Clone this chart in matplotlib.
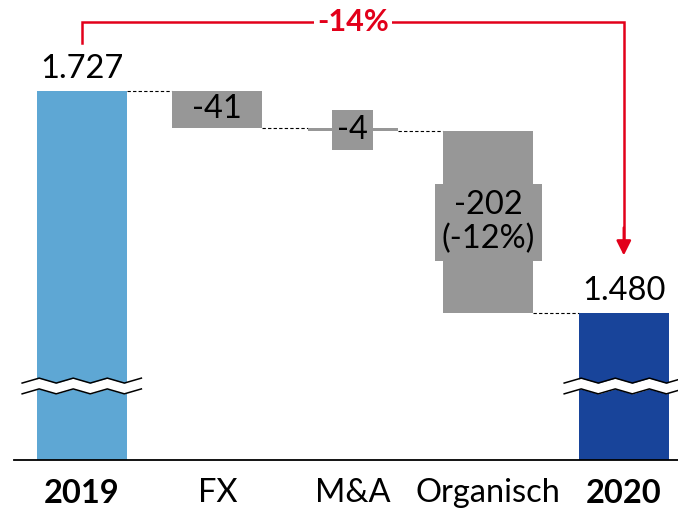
import numpy as np
import matplotlib.pyplot as plt

# data
categories = ["2019", "FX", "M&A", "Organisch", "2020"]
start_value = 1727
deltas = [-41, -4, -202]
end_value = 1480
start_label = "1.727"
end_label = "1.480"
delta_labels = ["-41", "-4", "-202\n(-12%)"]
total_change_label = "-14%"

plt.rcParams['font.family'] = ['Lato', 'DejaVu Sans']

light_blue = "#5EA7D4"
dark_blue = "#18449A"
grey = "#979797"
red = "#E2001A"

fig = plt.figure(figsize=(6.78, 5.16), dpi=100)
ax = fig.add_axes([14 / 678, 56 / 516, 664 / 678, 460 / 516])
floor = 1316.4
ax.set_xlim(-0.5, 4.4)
ax.set_ylim(floor, 1828.2)
ax.axis('off')
w = 0.665

# totals
ax.bar(0, start_value - floor, bottom=floor, width=w, color=light_blue, zorder=2)
ax.bar(4, end_value - floor, bottom=floor, width=w, color=dark_blue, zorder=2)

# changes
level = start_value
levels = [start_value]
for i, d in enumerate(deltas, start=1):
    ax.bar(i, -d, bottom=level + d, width=w, color=grey, zorder=2)
    level += d
    levels.append(level)

# connectors
for i, lv in enumerate(levels):
    ax.plot([i + w / 2, i + 1 - w / 2], [lv, lv], color="black", lw=0.8,
            ls=(0, (3, 2)), zorder=1)

# labels
fs = 23.5
ax.annotate(start_label, (0, start_value), xytext=(0, 16), textcoords="offset points",
            ha="center", va="center", fontsize=fs)
ax.annotate(end_label, (4, end_value), xytext=(0, 16), textcoords="offset points",
            ha="center", va="center", fontsize=fs)
ax.text(1, levels[0] + deltas[0] / 2, delta_labels[0], ha="center", va="center", fontsize=fs, zorder=4)
ax.text(2, levels[1] + deltas[1] / 2, delta_labels[1], ha="center", va="center", fontsize=fs, zorder=4,
        bbox=dict(boxstyle="square,pad=0.15", fc=grey, ec="none"))
ax.text(3, levels[2] + deltas[2] / 2, delta_labels[2], ha="center", va="center", fontsize=fs, zorder=4,
        linespacing=1.15, bbox=dict(boxstyle="square,pad=0.2", fc=grey, ec="none"))

for i, cat in enumerate(categories):
    bold = cat in ("2019", "2020")
    ax.annotate(cat, (i, floor), xytext=(0, -24), textcoords="offset points",
                ha="center", va="center", fontsize=fs,
                fontweight="bold" if bold else "normal", annotation_clip=False)

# axis line
ax.axhline(floor, color="black", lw=1.3, clip_on=False, zorder=3)

# axis break marks
def draw_break(xc, yc):
    xs = np.linspace(xc - 0.44, xc + 0.44, 8)
    zig = np.array([0, 1, 0, 1, 0, 1, 0, 1]) * 5.5
    top = yc + 6 + zig
    bot = yc - 6 + zig
    ax.fill_between(xs, bot, top, color="white", zorder=5, lw=0, clip_on=False)
    ax.plot(xs, top, color="black", lw=1.1, zorder=6, clip_on=False)
    ax.plot(xs, bot, color="black", lw=1.1, zorder=6, clip_on=False)

draw_break(0, 1396)
draw_break(4, 1396)

# total change bracket
y_top = 1804
ax.plot([0, 0, 4, 4], [1780, y_top, y_top, 1560], color=red, lw=1.8,
        clip_on=False, zorder=3, solid_joinstyle="miter")
ax.annotate("", xy=(4, 1544), xytext=(4, 1575),
            arrowprops=dict(arrowstyle="-|>", color=red, lw=1.8, mutation_scale=22,
                            shrinkA=0, shrinkB=0), annotation_clip=False)
ax.text(2, y_top, total_change_label, ha="center", va="center", fontsize=22,
        fontweight="bold", color=red, zorder=4,
        bbox=dict(boxstyle="square,pad=0.1", fc="white", ec="none"))

fig.savefig("out.png", dpi=100)
